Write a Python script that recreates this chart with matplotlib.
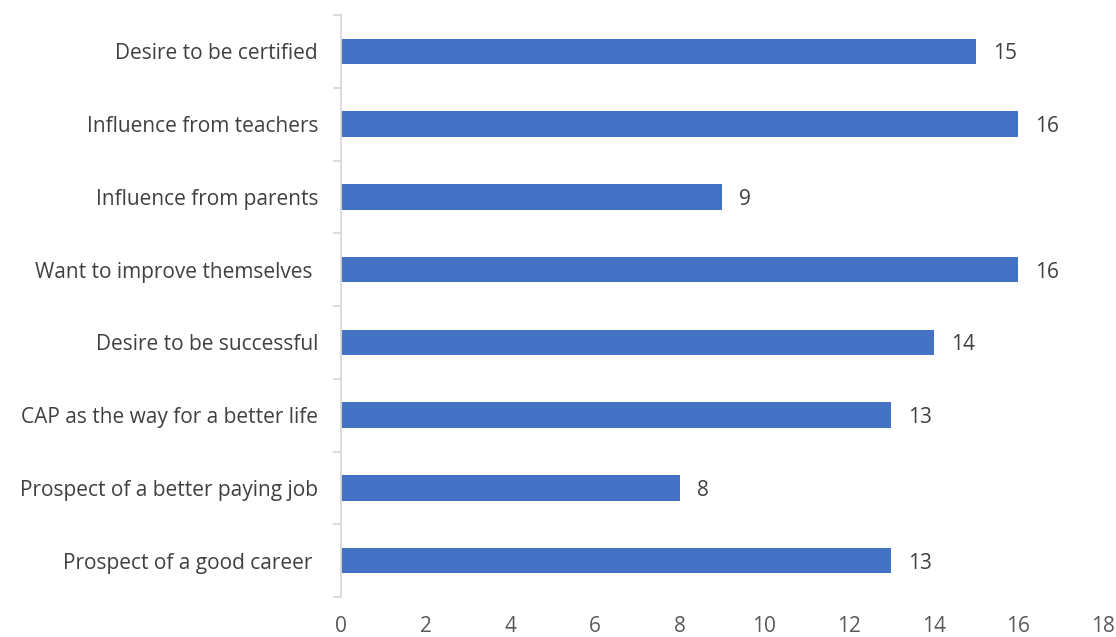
import matplotlib.pyplot as plt

reasons = [
    "Desire to be certified",
    "Influence from teachers",
    "Influence from parents",
    "Want to improve themselves ",
    "Desire to be successful",
    "CAP as the way for a better life",
    "Prospect of a better paying job",
    "Prospect of a good career ",
]
counts = [15, 16, 9, 16, 14, 13, 8, 13]

plt.rcParams['font.family'] = ['Open Sans', 'DejaVu Sans']

fig = plt.figure(figsize=(11.16, 6.37), dpi=100)
ax = fig.add_axes([341 / 1116, 1 - 597 / 637, 762 / 1116, 582 / 637])

n = len(reasons)
ypos = list(range(n))[::-1]  # first reason at the top
ax.barh(ypos, counts, height=0.35, color='#4472C4')

for y, v in zip(ypos, counts):
    ax.text(v + 0.4, y, str(v), va='center_baseline', ha='left', fontsize=15, color='#404040')

ax.set_xlim(0, 18)
ax.set_ylim(-0.5, n - 0.5)
ax.set_xticks(range(0, 19, 2))
ax.tick_params(axis='x', length=0, pad=14, labelsize=15, labelcolor='#595959')

# category labels on minor ticks, separator marks on major ticks
ax.set_yticks([i - 0.5 for i in range(n + 1)])
ax.set_yticklabels([])
ax.tick_params(axis='y', which='major', length=6, width=1.3, color='#d9d9d9')
ax.set_yticks(ypos, minor=True)
ax.set_yticklabels(reasons, minor=True)
ax.tick_params(axis='y', which='minor', length=0, pad=16.5, labelsize=15, labelcolor='#404040')

for side in ['top', 'right', 'bottom']:
    ax.spines[side].set_visible(False)
ax.spines['left'].set_color('#d9d9d9')
ax.spines['left'].set_linewidth(1.3)

fig.savefig('out.png', dpi=100)
